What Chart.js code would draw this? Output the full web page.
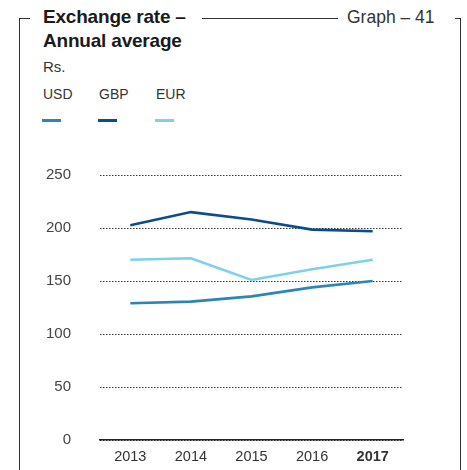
<!DOCTYPE html>
<html>
<head>
<meta charset="utf-8">
<script src="https://cdn.jsdelivr.net/npm/chart.js@4/dist/chart.umd.min.js"></script>
<style>
  html, body { margin: 0; padding: 0; background: #fff; }
  body { width: 467px; height: 470px; position: relative; overflow: hidden;
         font-family: "Liberation Sans", Arial, sans-serif; color: #222; }
  #chart { position: absolute; left: 0; top: 0; }
  .rule { position: absolute; background: #333; }
  .title { position: absolute; left: 43px; top: 5px; font-size: 19px; font-weight: bold;
           line-height: 24px; color: #1a1a1a; letter-spacing: -0.2px; }
  .graphno { position: absolute; left: 347px; top: 7px; font-size: 17.5px; color: #333; }
  .unit { position: absolute; left: 43px; top: 58px; font-size: 15px; color: #333; }
  .legend { position: absolute; top: 86px; font-size: 14px; color: #333; }
  .swatch { position: absolute; top: 119px; width: 19px; height: 3px; }
</style>
</head>
<body>
<div class="rule" style="left:19px; top:18px; width:1px; height:452px;"></div>
<div class="rule" style="left:19px; top:18px; width:11px; height:1px;"></div>
<div class="rule" style="left:202px; top:18px; width:136px; height:1px;"></div>
<div class="rule" style="left:455px; top:18px; width:6px; height:1px;"></div>
<div class="rule" style="left:460px; top:18px; width:1px; height:452px;"></div>
<div class="title">Exchange rate –<br>Annual average</div>
<div class="graphno">Graph – 41</div>
<div class="unit">Rs.</div>
<div id="legend"></div>
<!-- canvas runs a little past the page bottom so the year labels sit low -->
<canvas id="chart" width="467" height="478"></canvas>
<script>
// annual average rupee rates per currency
const years = ['2013', '2014', '2015', '2016', '2017'];
const usdRates = [129, 130.5, 135.5, 144, 150];
const gbpRates = [202.5, 215, 208, 198.5, 197];
const eurRates = [170, 171.5, 151, 161, 170];
const currencies = ['USD', 'GBP', 'EUR'];
const currencyColors = ['#2b85b6', '#0b4c8d', '#7fd0ec'];
const yMin = 0, yMax = 250, yStep = 50;

// legend: names on one row, short colour bars below
const legendEl = document.getElementById('legend');
const legendX = [43, 99, 156];
currencies.forEach((name, i) => {
    const label = document.createElement('div');
    label.className = 'legend';
    label.style.left = legendX[i] + 'px';
    label.textContent = name;
    legendEl.appendChild(label);
    const bar = document.createElement('div');
    bar.className = 'swatch';
    bar.style.left = (legendX[i] - 1) + 'px';
    bar.style.background = currencyColors[i];
    legendEl.appendChild(bar);
});

const seriesValues = [usdRates, gbpRates, eurRates];
const datasets = currencies.map((name, i) => ({
    label: name,
    data: seriesValues[i],
    borderColor: currencyColors[i],
    borderWidth: 2.6,
    pointRadius: 0,
    tension: 0,
    fill: false,
}));

const tickFont = { family: '"Liberation Sans", Arial, sans-serif', size: 14.5 };

new Chart(document.getElementById('chart'), {
    type: 'line',
    data: { labels: years, datasets: datasets },
    options: {
        responsive: false,
        animation: false,
        layout: { padding: { top: 175, right: 64, left: 0, bottom: 0 } },
        plugins: { legend: { display: false }, tooltip: { enabled: false } },
        scales: {
            x: {
                offset: true,
                grid: { display: false, drawTicks: false },
                border: { display: true, color: '#222', width: 1.5 },
                ticks: {
                    color: '#333',
                    padding: 8,
                    font: (ctx) => ctx.index === years.length - 1
                        ? Object.assign({}, tickFont, { weight: 'bold' })
                        : tickFont,
                },
            },
            y: {
                min: yMin,
                max: yMax,
                ticks: { stepSize: yStep, color: '#444', padding: 29, font: { family: tickFont.family, size: 15 } },
                grid: { color: '#333', lineWidth: 1, drawTicks: false },
                border: { display: false, dash: [1.5, 1.5] },
                afterFit: (s) => { s.width = 100; },
            },
        },
    },
});
</script>
</body>
</html>
